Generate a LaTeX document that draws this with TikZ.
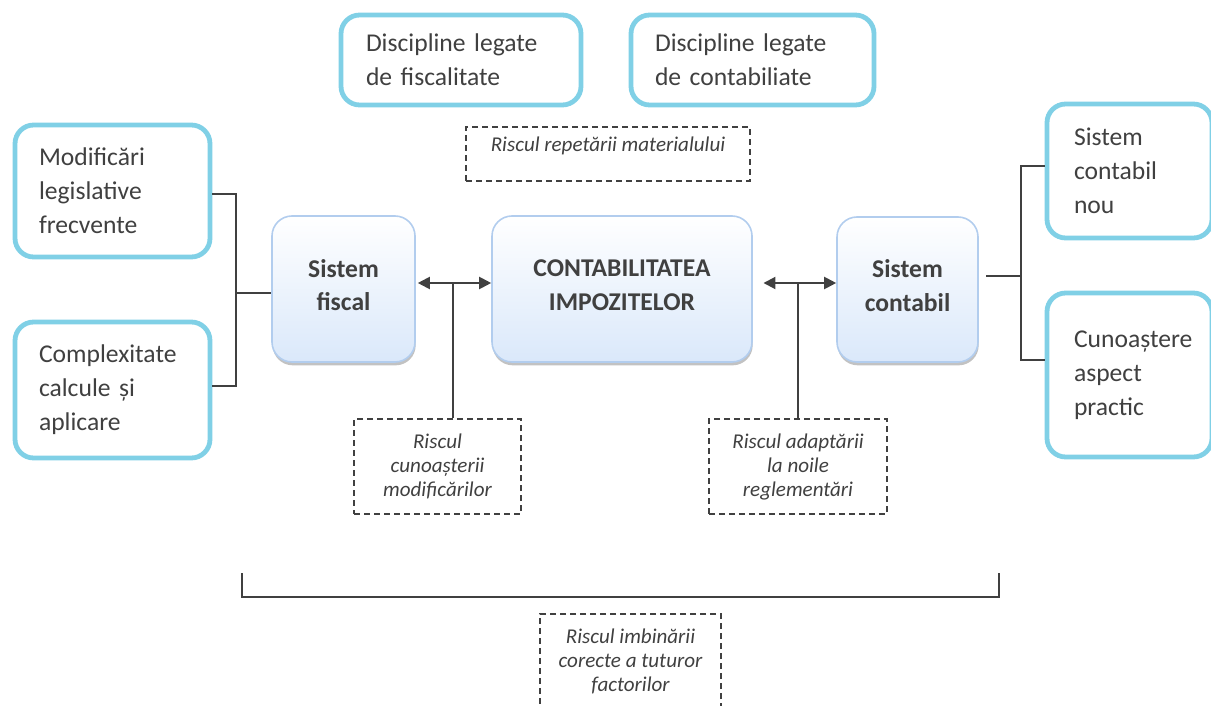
\documentclass[tikz,border=0pt]{standalone}
\usepackage{fontspec}
\setmainfont{Carlito}
\usetikzlibrary{arrows.meta,shadows}
\definecolor{cyanb}{RGB}{128,208,230}
\definecolor{txt}{RGB}{64,64,64}
\definecolor{lnc}{RGB}{64,64,64}
\definecolor{bluet}{RGB}{218,232,250}
\definecolor{blueb}{RGB}{178,205,238}
\newcommand{\lowpad}{\rule[-6pt]{0pt}{6pt}}
\begin{document}
\begin{tikzpicture}[x=0.75pt,y=-0.75pt,
 every node/.style={text=txt},
 cbox/.style={draw=cyanb, line width=3.6pt, rounded corners=14pt, fill=white,
   font=\fontsize{19.2pt}{25.5pt}\selectfont, align=left, inner sep=0pt},
 mbox/.style={draw=blueb, line width=1.2pt, rounded corners=15pt, top color=white, bottom color=bluet,
   drop shadow={shadow xshift=0.5pt, shadow yshift=-2.5pt, opacity=0.4, fill=black!60},
   font=\bfseries\fontsize{19.2pt}{25pt}\selectfont, align=center, inner sep=0pt},
 dbox/.style={draw=lnc, dash pattern=on 4.5pt off 3pt, line width=0.9pt,
   font=\itshape\fontsize{15.8pt}{18pt}\selectfont, align=center, inner sep=0pt},
 conn/.style={draw=lnc, line width=1.2pt},
 arr/.style={draw=lnc, line width=1.5pt, {Triangle[length=9pt,width=9pt]}-{Triangle[length=9pt,width=9pt]}}
]
\useasboundingbox (0,0) rectangle (1211,706);

% cyan boxes
\node[cbox, minimum width=146.25pt, minimum height=99pt, text width=110.25pt] (lb1) at (112.5,191) {Modificări\\legislative\\frecvente};
\node[cbox, minimum width=146.25pt, minimum height=102pt, text width=110.25pt] (lb2) at (112.5,390) {Complexitate\\calcule și\\aplicare};
\node[cbox, minimum width=123.75pt, minimum height=100.5pt, text width=83.25pt] (rb1) at (1129.5,171) {Sistem\\contabil\\nou};
\node[cbox, minimum width=123.75pt, minimum height=123pt, text width=83.25pt] (rb2) at (1129.5,375) {Cunoaștere\\aspect\\practic};
\node[cbox, minimum width=180pt, minimum height=67.5pt, text width=142.5pt] (tb1) at (461,60) {Discipline legate\\de fiscalitate};
\node[cbox, minimum width=182.25pt, minimum height=67.5pt, text width=146.25pt] (tb2) at (752.5,60) {Discipline legate\\de contabiliate};

% main boxes
\node[mbox, minimum width=107.25pt, minimum height=109.5pt] (sf) at (343.5,289) {Sistem\\fiscal\lowpad};
\node[mbox, minimum width=195pt, minimum height=109.5pt] (ci) at (622,289) {CONTABILITATEA\\IMPOZITELOR\lowpad};
\node[mbox, minimum width=105.75pt, minimum height=108.75pt] (sc) at (907.5,289.5) {Sistem\\contabil\lowpad};

% dashed boxes
\node[dbox, minimum width=213pt, text height=18.75pt, text depth=21.75pt] (d1) at (608,154) {Riscul repetării materialului};
\node[dbox, minimum width=125.25pt, minimum height=71.25pt] (d2) at (437.5,466.5) {Riscul\\cunoașterii\\modificărilor};
\node[dbox, minimum width=133.5pt, minimum height=71.25pt] (d3) at (798,466.5) {Riscul adaptării\\la noile\\reglementări};
\node[dbox, minimum width=135.75pt, minimum height=70.5pt] (d4) at (630.5,661) {Riscul imbinării\\corecte a tuturor\\factorilor};

% junction coordinates
\coordinate (jl1) at (236,194);
\coordinate (jl2) at (236,386);
\coordinate (jl) at (236,293);
\coordinate (jr1) at (1021,166);
\coordinate (jr2) at (1021,360);
\coordinate (jr) at (1021,276);
\coordinate (jrs) at (986,276);
\coordinate (a1) at (453,283);
\coordinate (a2) at (798,283);
\coordinate (b1) at (242,573);
\coordinate (b2) at (242,597);
\coordinate (b3) at (999,597);
\coordinate (b4) at (999,573);

% connectors
\draw[conn] (lb1.east |- jl1) -- (jl1) -- (jl2) -- (lb2.east |- jl2);
\draw[conn] (jl) -- (sf.west |- jl);
\draw[conn] (rb1.west |- jr1) -- (jr1) -- (jr2) -- (rb2.west |- jr2);
\draw[conn] (jrs) -- (jr);
\draw[arr, shorten <=1.5pt] (sf.east |- a1) -- (ci.west |- a1);
\draw[arr, shorten <=8pt] (ci.east |- a2) -- (sc.west |- a2);
\draw[conn] (a1) -- (a1 |- d2.north);
\draw[conn] (a2) -- (d3.north);
\draw[conn] (b1) -- (b2) -- (b3) -- (b4);
\end{tikzpicture}
\end{document}
